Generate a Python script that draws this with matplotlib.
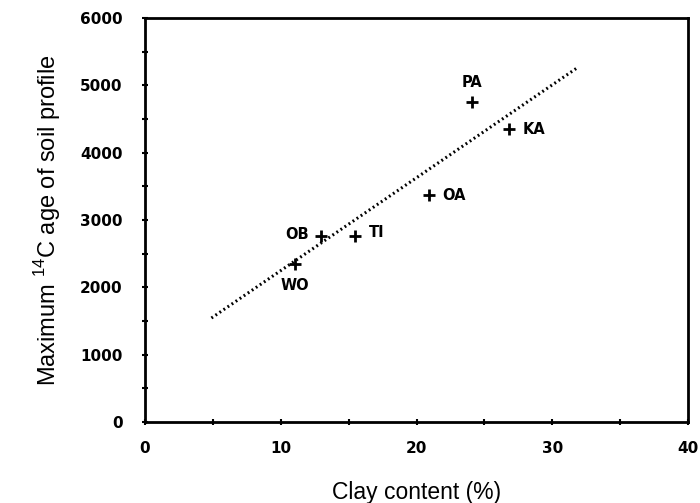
import matplotlib
matplotlib.use("Agg")
import matplotlib.pyplot as plt
import numpy as np

# Data
sites = ["WO", "OB", "TI", "OA", "PA", "KA"]
clay = [11.05, 13.0, 15.5, 20.9, 24.1, 26.8]
age = [2350, 2760, 2770, 3370, 4750, 4350]
line_x = [4.9, 31.8]
line_y = [1545, 5257]

label_offsets = {"WO": (0, -10, "center", "top"),
                 "OB": (-9, 1, "right", "center"),
                 "TI": (10, 2, "left", "center"),
                 "OA": (10, 0, "left", "center"),
                 "PA": (0, 9, "center", "bottom"),
                 "KA": (10, 0, "left", "center")}

fig = plt.figure(figsize=(7.0, 5.03), dpi=100)
ax = fig.add_axes([0.207, 0.161, 0.776, 0.803])

ax.plot(line_x, line_y, linestyle=(0, (0.6, 1.0)), color="black", linewidth=2.2)
ax.plot(clay, age, linestyle="none", marker="+", markersize=8, color="black",
        markeredgewidth=2.0)

for s, x, y in zip(sites, clay, age):
    dx, dy, ha, va = label_offsets[s]
    ax.annotate(s, (x, y), xytext=(dx, dy), textcoords="offset points",
                ha=ha, va=va, fontsize=10.5, fontweight="bold",
                family="DejaVu Sans")

ax.set_xlim(0, 40)
ax.set_ylim(0, 6000)
ax.set_xticks([0, 10, 20, 30, 40])
ax.set_xticks(np.arange(0, 41, 5), minor=True)
ax.set_yticks(np.arange(0, 6001, 1000))
ax.set_yticks(np.arange(0, 6001, 500), minor=True)
ax.tick_params(which="both", direction="inout", length=4, width=1.5)
ax.tick_params(axis="x", pad=12)
ax.tick_params(axis="y", pad=14)
for lab in ax.get_xticklabels() + ax.get_yticklabels():
    lab.set_fontweight("bold")
    lab.set_fontsize(11)
for sp in ax.spines.values():
    sp.set_linewidth(2.0)

ax.set_xlabel("Clay content (%)", fontsize=16.5, family="Liberation Sans", labelpad=18)
ax.set_ylabel(r"Maximum $^{\mathregular{14}}$C age of soil profile", fontsize=17,
              family="Liberation Sans", labelpad=12)

fig.savefig("out.png", dpi=100)
